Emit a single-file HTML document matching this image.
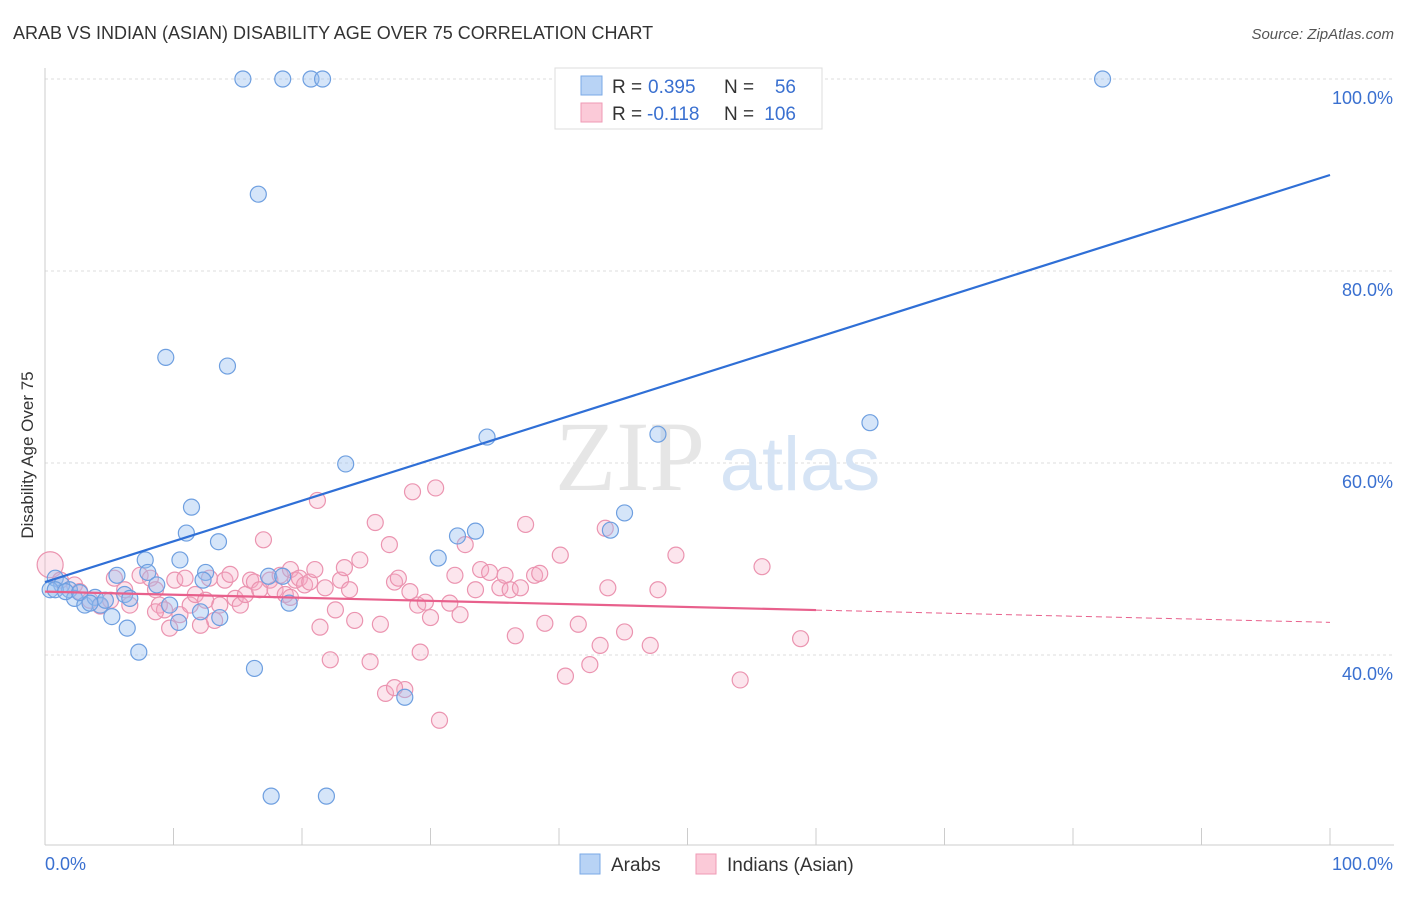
<!DOCTYPE html>
<html><head><meta charset="utf-8"><style>
body{margin:0;background:#fff;font-family:"Liberation Sans",sans-serif;}
</style></head><body>
<svg id="chart" width="1406" height="892" xmlns="http://www.w3.org/2000/svg">
<text x="13" y="39" font-size="18" fill="#333">ARAB VS INDIAN (ASIAN) DISABILITY AGE OVER 75 CORRELATION CHART</text>
<text x="1394" y="39" font-size="15" fill="#555" font-style="italic" text-anchor="end">Source: ZipAtlas.com</text>
<g id="grid"></g>
<text x="630" y="490" font-size="100" fill="#e6e6e6" font-family="Liberation Serif" text-anchor="middle">ZIP</text>
<text x="800" y="490" font-size="76" fill="#d6e4f5" text-anchor="middle">atlas</text>
<text transform="translate(33,455) rotate(-90)" font-size="17" fill="#333" text-anchor="middle">Disability Age Over 75</text>
<g id="points"></g>
<g id="lines"></g>
<g>
<rect x="555" y="68" width="267" height="61" fill="#fff" stroke="#ddd"/>
<rect x="581" y="76" width="21" height="19" fill="#b8d3f5" stroke="#7aa8e6"/>
<rect x="581" y="103" width="21" height="19" fill="#fbcad8" stroke="#ef9ab5"/>
<text x="612" y="93" font-size="19" fill="#333">R =</text>
<text x="648" y="93" font-size="19" fill="#3a70d0">0.395</text>
<text x="724" y="93" font-size="19" fill="#333">N =</text>
<text x="796" y="93" font-size="19" fill="#3a70d0" text-anchor="end">56</text>
<text x="612" y="120" font-size="19" fill="#333">R =</text>
<text x="647" y="120" font-size="19" fill="#3a70d0">-0.118</text>
<text x="724" y="120" font-size="19" fill="#333">N =</text>
<text x="796" y="120" font-size="19" fill="#3a70d0" text-anchor="end">106</text>
</g>
<g>
<rect x="580" y="854" width="20" height="20" fill="#b8d3f5" stroke="#7aa8e6"/>
<text x="611" y="871" font-size="19" fill="#333">Arabs</text>
<rect x="696" y="854" width="20" height="20" fill="#fbcad8" stroke="#ef9ab5"/>
<text x="727" y="871" font-size="19" fill="#333">Indians (Asian)</text>
</g>
</svg>
<script>
const yTicks=[40,60,80,100];
const yTickLabels=["40.0%","60.0%","80.0%","100.0%"];
const xTickVals=[0,10,20,30,40,50,60,70,80,90,100];
const arabX=[15.4,18.5,20.7,21.6,82.3,16.6,9.4,14.2,34.4,47.7,64.2,23.4,11.4,11.0,13.5,32.1,33.5,45.1,44.0,30.6,7.8,10.5,5.6,8.0,12.5,12.3,8.7,17.4,18.5,0.8,1.3,1.9,0.4,2.3,3.1,3.9,4.3,4.7,6.2,6.6,9.7,12.1,13.6,10.4,5.2,6.4,7.3,16.3,28.0,17.6,21.9,19.0,0.8,1.6,2.7,3.5];
const arabY=[100,100,100,100,100,88.0,71.0,70.1,62.7,63.0,64.2,59.9,55.4,52.7,51.8,52.4,52.9,54.8,53.0,50.1,49.9,49.9,48.3,48.6,48.6,47.8,47.3,48.2,48.2,48.0,47.3,46.8,46.8,45.9,45.2,46.0,45.2,45.7,46.3,45.9,45.2,44.5,43.9,43.4,44.0,42.8,40.3,38.6,35.6,25.3,25.3,45.4,46.8,46.6,46.5,45.4];
const indX=[0.4,1.2,2.3,2.7,3.5,4.3,5.1,5.4,6.2,6.6,7.4,8.2,8.6,8.9,9.3,9.7,10.1,10.5,10.9,11.3,11.7,12.5,12.8,13.2,13.6,14.0,14.4,14.8,15.2,15.6,16.0,16.3,16.7,17.0,17.5,17.9,18.3,18.7,19.1,19.5,19.8,20.2,20.6,21.0,21.2,21.4,21.8,22.2,22.6,23.0,23.3,23.7,24.1,24.5,25.3,25.7,26.1,26.8,27.2,27.5,28.0,28.4,28.6,29.0,29.2,29.6,30.0,30.4,30.7,31.5,31.9,32.3,32.7,33.5,33.9,34.6,35.4,35.8,36.2,36.6,37.0,37.4,38.1,38.5,38.9,40.1,40.5,41.5,42.4,43.2,43.6,43.8,45.1,47.1,47.7,49.1,54.1,55.8,58.8,19.1,12.1,8.6,26.5,27.2];
const indY=[49.4,47.8,47.3,46.6,45.7,45.1,45.7,48.0,46.8,45.2,48.3,48.0,46.8,45.2,44.7,42.8,47.8,44.2,48.0,45.2,46.3,45.7,48.0,43.6,45.2,47.8,48.4,45.9,45.2,46.3,47.8,47.6,46.8,52.0,47.8,46.8,48.3,46.3,48.9,47.8,48.0,47.3,47.6,48.9,56.1,42.9,47.0,39.5,44.7,47.8,49.1,46.8,43.6,49.9,39.3,53.8,43.2,51.5,47.6,48.0,36.4,46.6,57.0,45.2,40.3,45.5,43.9,57.4,33.2,45.4,48.3,44.2,51.5,46.8,48.9,48.6,47.0,48.3,46.8,42.0,47.0,53.6,48.3,48.5,43.3,50.4,37.8,43.2,39.0,41.0,53.2,47.0,42.4,41.0,46.8,50.4,37.4,49.2,41.7,46.0,43.1,44.5,36.0,36.6];
const arabTrend=[47.6,90.0];
const indTrend=[46.6,43.4];
const NS="http://www.w3.org/2000/svg";
const xs=v=>45+v*12.85;
const ys=v=>79+(100-v)*9.6;
function mk(tag,attrs,parent){const e=document.createElementNS(NS,tag);for(const k in attrs)e.setAttribute(k,attrs[k]);parent.appendChild(e);return e;}
const grid=document.getElementById('grid');
yTicks.forEach((t,i)=>{
  const l=mk('line',{x1:45,x2:1394,y1:ys(t),y2:ys(t),stroke:'#ddd','stroke-dasharray':'3,3'},grid);
  
  
  const tx=mk('text',{x:1393,y:ys(t)+25,'font-size':18,fill:'#3a70d0','text-anchor':'end'},grid);
  tx.textContent=yTickLabels[i];
  
  
});
mk('line',{x1:45,x2:45,y1:68,y2:845,stroke:'#ccc'},grid);
mk('line',{x1:45,x2:1394,y1:845,y2:845,stroke:'#ccc'},grid);
xTickVals.forEach(t=>{
  const l=mk('line',{x1:xs(t),x2:xs(t),y1:828,y2:845,stroke:'#ccc'},grid);
  
  
});
const xl0=mk('text',{x:45,y:870,'font-size':18,fill:'#3a70d0'},grid);xl0.textContent='0.0%';


const xl1=mk('text',{x:1393,y:870,'font-size':18,fill:'#3a70d0','text-anchor':'end'},grid);xl1.textContent='100.0%';


const pts=document.getElementById('points');
indX.forEach((x,i)=>{
  const c=mk('circle',{cx:xs(x),cy:ys(indY[i]),r:i===0?13:8,fill:'rgba(246,170,195,0.3)',stroke:'#eb94b0','stroke-width':1.2},pts);
  
  
});
arabX.forEach((x,i)=>{
  const c=mk('circle',{cx:xs(x),cy:ys(arabY[i]),r:8,fill:'rgba(150,190,240,0.4)',stroke:'#6e9fe0','stroke-width':1.2},pts);
  
  
});
const ln=document.getElementById('lines');
const a=mk('line',{x1:xs(0),y1:ys(arabTrend[0]),x2:xs(100),y2:ys(arabTrend[1]),stroke:'#2f6fd6','stroke-width':2.2},ln);


const im=indTrend[0]+(indTrend[1]-indTrend[0])*0.6;
const b=mk('line',{x1:xs(0),y1:ys(indTrend[0]),x2:xs(60),y2:ys(im),stroke:'#e8608c','stroke-width':2.2},ln);


const b2=mk('line',{x1:xs(60),y1:ys(im),x2:xs(100),y2:ys(indTrend[1]),stroke:'#e8608c','stroke-width':1,'stroke-dasharray':'6,4'},ln);


</script>
</body></html>
